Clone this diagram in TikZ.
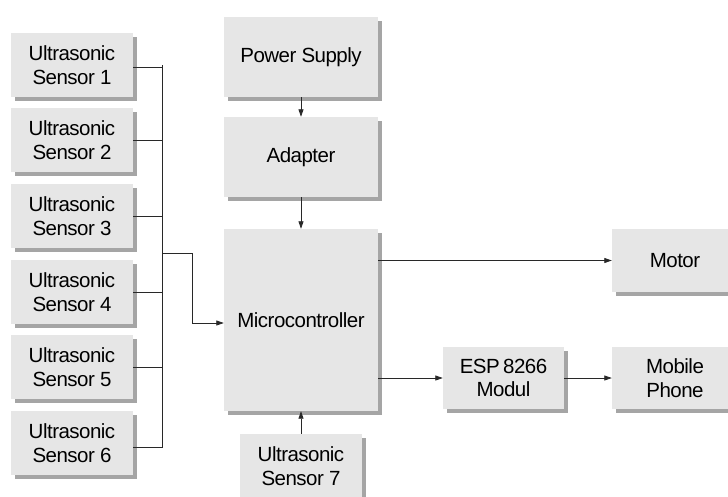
\documentclass[tikz,border=0pt]{standalone}
\usepackage{fontspec}
\setmainfont{Liberation Sans}[LetterSpace=-2.5]
\usetikzlibrary{arrows.meta,shadows}
\definecolor{boxfill}{RGB}{230,230,230}
\definecolor{shadowgray}{RGB}{165,165,165}
\definecolor{linegray}{RGB}{40,40,40}
\tikzset{
  blk/.style={fill=boxfill, draw=none, inner sep=0pt, align=center,
    font=\fontsize{20.5}{23.5}\selectfont,
    drop shadow={shadow xshift=4pt, shadow yshift=-4pt, fill=shadowgray, opacity=1}},
  sensorbox/.style={blk, minimum width=122pt, minimum height=64pt},
  conn/.style={draw=linegray, line width=0.8pt},
  arr/.style={conn, -{Triangle[length=7.5pt,width=5pt]}}
}
\begin{document}
\begin{tikzpicture}[x=1pt,y=-1pt]
\useasboundingbox (0,0) rectangle (728,496);
\fill[white] (0,0) rectangle (728,496);
% sensors
\node[sensorbox] (s1) at (72,65)  {Ultrasonic\\Sensor 1};
\node[sensorbox] (s2) at (72,140) {Ultrasonic\\Sensor 2};
\node[sensorbox] (s3) at (72,216) {Ultrasonic\\Sensor 3};
\node[sensorbox] (s4) at (72,292) {Ultrasonic\\Sensor 4};
\node[sensorbox] (s5) at (72,367) {Ultrasonic\\Sensor 5};
\node[sensorbox] (s6) at (72,443) {Ultrasonic\\Sensor 6};
% middle column
\node[blk, minimum width=154pt, minimum height=80pt] (ps) at (301,57) {Power Supply};
\node[blk, minimum width=154pt, minimum height=80pt] (ad) at (301,157) {Adapter};
\node[blk, minimum width=154pt, minimum height=182pt] (mc) at (301,320) {Microcontroller};
\node[sensorbox] (s7) at (301,466) {Ultrasonic\\Sensor 7};
% right side
\node[blk, minimum width=126pt, minimum height=63pt] (mo) at (675,260.5) {Motor};
\node[blk, minimum width=121pt, minimum height=62pt] (esp) at (503.5,378) {ESP\,8266\\Modul};
\node[blk, minimum width=126pt, minimum height=62pt] (mp) at (675,378) {Mobile\\Phone};
% bus
\coordinate (bus) at (162.5,0);
\coordinate (bj) at (162.5,253);
\coordinate (bk) at (192,253);
\draw[conn] (s1.east |- 0,67) -| (bus |- s1.east);
\draw[conn] (bus |- 0,67) -- (bus |- 0,447);
\draw[conn] (s2.east) -- (bus |- s2.east);
\draw[conn] (s3.east) -- (bus |- s3.east);
\draw[conn] (s4.east) -- (bus |- s4.east);
\draw[conn] (s5.east) -- (bus |- s5.east);
\draw[conn] (s6.east |- 0,447) -- (bus |- 0,447);
\draw[arr] (bj) -- (bk) |- (mc.west |- 0,323);
% arrows
\draw[arr] (ps) -- (ad);
\draw[arr] (ad) -- (mc);
\draw[arr] (s7) -- (mc);
\draw[arr] (mc.east |- mo.west) -- (mo.west);
\draw[arr] (mc.east |- esp.west) -- (esp.west);
\draw[arr] (esp) -- (mp);
\end{tikzpicture}
\end{document}
